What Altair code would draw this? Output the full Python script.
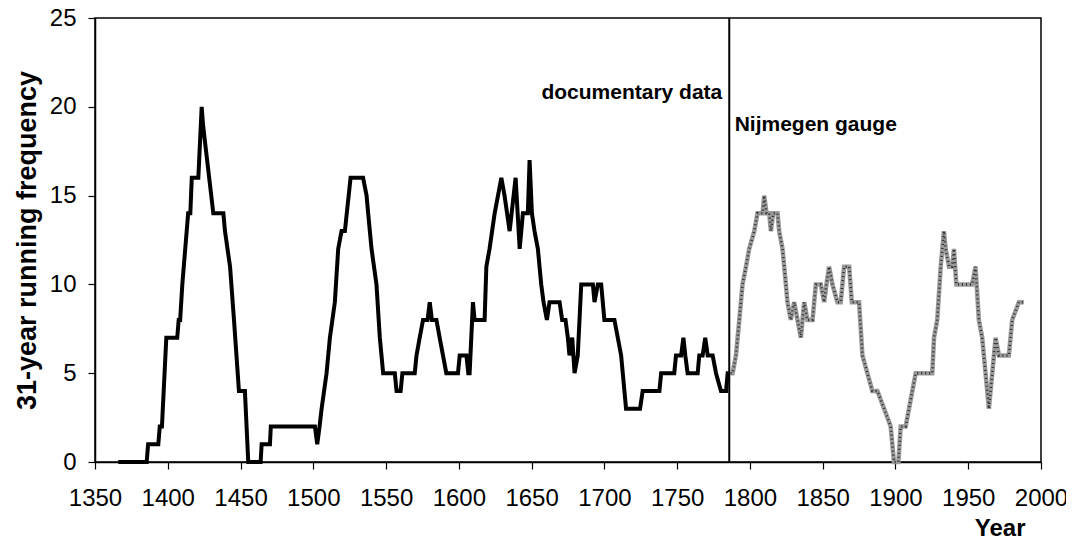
import altair as alt
import pandas as pd

# ---- data ----
# documentary data (black): breakpoints of the 31-year running frequency
doc_years = [1366, 1385.5, 1386.5, 1393.5, 1394.5, 1396, 1399, 1406.5, 1407.5, 1408.5,
             1410, 1413, 1414, 1415.5, 1416.5, 1421, 1423.3, 1424.2, 1425.6, 1431.3,
             1438.2, 1439.3, 1442.8, 1445.5, 1448.9, 1453, 1455.3, 1463.8, 1464.5, 1470.2,
             1470.8, 1501.1, 1502.7, 1504.3, 1505.7, 1509.1, 1511.4, 1514.8, 1517.1, 1519.4,
             1521.7, 1525.6, 1534.2, 1536.6, 1537.7, 1540, 1543.4, 1545.7, 1548, 1556,
             1557.2, 1560, 1561.2, 1569.7, 1570.9, 1573.1, 1575.4, 1578.5, 1580, 1581.5,
             1584.6, 1586.8, 1589.1, 1591.4, 1599.4, 1600.6, 1605.2, 1606.5, 1607.4, 1609.7,
             1610.8, 1617.7, 1618.9, 1621.1, 1624.6, 1629.2, 1631.4, 1634.9, 1639, 1641.8,
             1644, 1647.4, 1648.6, 1650.2, 1652, 1654.3, 1656.6, 1658.2, 1660.5, 1662.3,
             1669.2, 1671, 1673.3, 1674.9, 1676, 1677.9, 1679.5, 1681.7, 1684.1, 1692.1,
             1693.2, 1695.5, 1697.8, 1698.9, 1700, 1706.9, 1709.2, 1711.5, 1714.9, 1724.5,
             1726.3, 1737.8, 1739, 1748, 1749.2, 1752.7, 1754.3, 1755.6, 1757.2, 1764.1,
             1765.2, 1767.5, 1769.3, 1771, 1774.4, 1776.7, 1780.1, 1783.6, 1784.7, 1785.5]
doc_values = [0, 0, 1, 1, 2, 2, 7, 7, 8, 8,
              10, 13, 14, 14, 16, 16, 20, 19, 18, 14,
              14, 13, 11, 8, 4, 4, 0, 0, 1, 1,
              2, 2, 1, 2, 3, 5, 7, 9, 12, 13,
              13, 16, 16, 15, 14, 12, 10, 7, 5, 5,
              4, 4, 5, 5, 6, 7, 8, 8, 9, 8,
              8, 7, 6, 5, 5, 6, 6, 5, 5, 9,
              8, 8, 11, 12, 14, 16, 15, 13, 16, 12,
              14, 14, 17, 14, 13, 12, 10, 9, 8, 9,
              9, 8, 8, 7, 6, 7, 5, 6, 10, 10,
              9, 10, 10, 9, 8, 8, 7, 6, 3, 3,
              4, 4, 5, 5, 6, 6, 7, 6, 5, 5,
              6, 6, 7, 6, 6, 5, 4, 4, 5, 5]

# Nijmegen gauge (grey)
gauge_years = [1786.7, 1788.1, 1790.4, 1792.7, 1794.9, 1797.3, 1799.5, 1803, 1805.2, 1808.7,
               1809.8, 1811.4, 1813.3, 1814.4, 1816, 1819, 1820.1, 1822.4, 1824.7, 1825.8,
               1828.1, 1830.4, 1832.7, 1835, 1837.3, 1839.5, 1843, 1845.3, 1848.7, 1851,
               1852.6, 1854.4, 1856.7, 1860.1, 1862.4, 1864.7, 1868.2, 1870, 1875, 1877.3,
               1880.7, 1884.1, 1887.6, 1892.2, 1896.7, 1899, 1902, 1903.6, 1907, 1909.3,
               1911.6, 1913.9, 1925.3, 1926.5, 1928.7, 1931.1, 1933.3, 1934.5, 1936.8, 1939,
               1940.2, 1941.8, 1952.7, 1955, 1957.3, 1959.6, 1961.9, 1964.2, 1966.5, 1968.8,
               1971.1, 1977.9, 1980.2, 1984.8, 1988.2]
gauge_values = [5, 5, 6, 8, 10, 11, 12, 13, 14, 14,
                15, 14, 14, 13, 14, 14, 13, 12, 10, 9,
                8, 9, 8, 7, 9, 8, 8, 10, 10, 9,
                10, 11, 10, 9, 9, 11, 11, 9, 9, 6,
                5, 4, 4, 3, 2, 0, 0, 2, 2, 3,
                4, 5, 5, 7, 8, 11, 13, 12, 11, 11,
                12, 10, 10, 11, 8, 7, 5, 3, 5, 7,
                6, 6, 8, 9, 9]

divider_year = 1785.8
x_ticks = [1350, 1400, 1450, 1500, 1550, 1600, 1650, 1700, 1750, 1800, 1850, 1900, 1950, 2000]
y_ticks = [0, 5, 10, 15, 20, 25]

FONT = "Liberation Sans"

doc_df = pd.DataFrame({"year": doc_years, "freq": doc_values})
gauge_df = pd.DataFrame({"year": gauge_years, "freq": gauge_values})

x_scale = alt.Scale(domain=[1350, 2000], nice=False, zero=False)
y_scale = alt.Scale(domain=[0, 25], nice=False)

x_axis = alt.Axis(values=x_ticks, format="d", grid=False, tickSize=7, tickColor="black",
                  domainColor="black", domainWidth=1.5, tickWidth=1.2,
                  labelFontSize=24, labelFont=FONT, labelColor="black", labelPadding=17,
                  title="Year", titleFont=FONT, titleFontSize=24, titleFontWeight="bold",
                  titleColor="black", titleAlign="right", titleAnchor="end",
                  titleX=930, titleY=73, titleBaseline="alphabetic", labelFlush=False)
y_axis = alt.Axis(values=y_ticks, grid=False, tickSize=7, tickColor="black",
                  domainColor="black", domainWidth=1.5, tickWidth=1.2,
                  labelFontSize=24, labelFont=FONT, labelColor="black", labelPadding=12,
                  title="31-year running frequency", titleFont=FONT, titleFontSize=27,
                  titleFontWeight="bold", titleColor="black", titleAngle=-90,
                  titleX=-68, titleY=222, titleAlign="center", titleBaseline="middle")

doc_line = alt.Chart(doc_df).mark_line(color="black", strokeWidth=4, strokeJoin="miter").encode(
    x=alt.X("year:Q", scale=x_scale, axis=x_axis),
    y=alt.Y("freq:Q", scale=y_scale, axis=y_axis),
)

gauge_base = alt.Chart(gauge_df).mark_line(color="#9a9a9a", strokeWidth=4.5).encode(
    x=alt.X("year:Q", scale=x_scale),
    y=alt.Y("freq:Q", scale=y_scale),
)
gauge_tex = alt.Chart(gauge_df).mark_line(color="#2a2a2a", strokeWidth=2.5, strokeDash=[1, 3]).encode(
    x=alt.X("year:Q", scale=x_scale),
    y=alt.Y("freq:Q", scale=y_scale),
)

divider = alt.Chart(pd.DataFrame({"year": [divider_year]})).mark_rule(color="black", strokeWidth=2).encode(
    x=alt.X("year:Q", scale=x_scale),
    y=alt.value(0),
    y2=alt.value(444),
)

label_doc = alt.Chart(pd.DataFrame({"year": [1781], "freq": [20.45], "t": ["documentary data"]})).mark_text(
    font=FONT, fontSize=21, fontWeight="bold", align="right", baseline="alphabetic", color="black"
).encode(x=alt.X("year:Q", scale=x_scale), y=alt.Y("freq:Q", scale=y_scale), text="t:N")

label_gauge = alt.Chart(pd.DataFrame({"year": [1789.5], "freq": [18.65], "t": ["Nijmegen gauge"]})).mark_text(
    font=FONT, fontSize=21, fontWeight="bold", align="left", baseline="alphabetic", color="black"
).encode(x=alt.X("year:Q", scale=x_scale), y=alt.Y("freq:Q", scale=y_scale), text="t:N")

chart = alt.layer(doc_line, gauge_base, gauge_tex, divider, label_doc, label_gauge).properties(
    width=946, height=444,
    autosize=alt.AutoSizeParams(type="none"),
    padding={"left": 87, "top": 10, "right": 25, "bottom": 74},
    background="white",
).configure_view(stroke="black", strokeWidth=1.5)

chart.save("out.html", embed_options={"renderer": "svg", "actions": False})
